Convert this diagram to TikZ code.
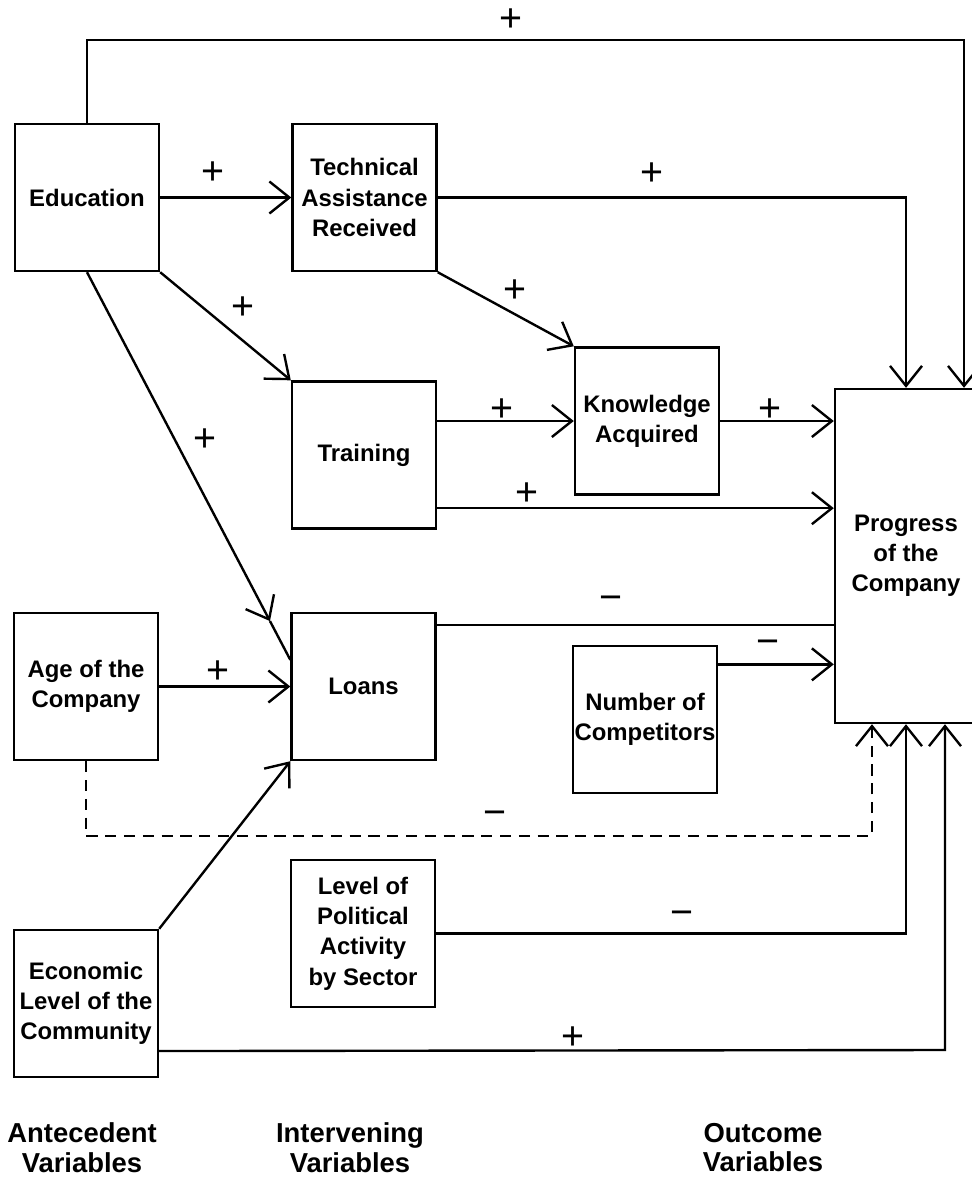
\documentclass[tikz,border=0pt]{standalone}
\usepackage{fontspec}
\setmainfont{Liberation Sans}
\usetikzlibrary{arrows.meta}

\tikzset{
  var/.style={draw, minimum width=36mm, minimum height=36.75mm, inner sep=0pt,
    align=center, font=\fontsize{17}{21.5}\selectfont\bfseries},
  sign/.style={inner sep=0pt, font=\fontsize{28}{28}\selectfont},
  heading/.style={align=center, font=\fontsize{19.5}{21}\selectfont\bfseries}
}

\begin{document}
\begin{tikzpicture}[x=0.25mm, y=-0.25mm, line width=1.7pt,
  >={Straight Barb[length=5mm,width=8mm]}]

  \useasboundingbox (0,0) rectangle (971,1177);

  \node[var] (edu)   at (87,197.5)   {Education};
  \node[var] (tech)  at (364.5,197.5) {Technical\\Assistance\\Received};
  \node[var] (train) at (364,455)    {Training};
  \node[var] (know)  at (647,421)    {Knowledge\\Acquired};
  \node[var, minimum width=35.5mm, minimum height=83.5mm] (prog) at (906,556) {Progress\\of the\\Company};
  \node[var] (age)   at (86,686.5)   {Age of the\\Company};
  \node[var] (loans) at (363.5,686.5) {Loans};
  \node[var] (comp)  at (645,719.5)  {Number of\\Competitors};
  \node[var] (pol)   at (363,933.5)  {Level of\\Political\\Activity\\by Sector};
  \node[var] (econ)  at (86,1003.5)  {Economic\\Level of the\\Community};

  % Education
  \coordinate (topturn) at (964,40);
  \draw[->] (edu.north) |- (topturn) -- (topturn |- prog.north);
  \draw[->] (edu) -- (tech);
  \draw[->] (edu.south east) -- (train.north west);
  \path (edu.south) -- (loans.160) coordinate[pos=0.9] (eduloans);
  \draw[->] (edu.south) -- (eduloans);
  \draw (eduloans) -- (loans.160);

  % Technical assistance
  \draw[->] (tech.east) -| (prog.north);
  \draw[->] (tech.south east) -- (know.north west);

  % Training and knowledge
  \draw[->] (know.west -| train.east) -- (know.west);
  \draw[->] (know.east) -- (know.east -| prog.west);
  \draw[->] (train.-36) -- (train.-36 -| prog.west);

  % Loans and competitors
  \draw (loans.40) -- (loans.40 -| prog.west);
  \draw[->] (comp.37) -- (comp.37 -| prog.west);
  \draw[->] (age) -- (loans);
  \draw[->] (econ.north east) -- (loans.south west);

  % into the bottom of progress
  \coordinate (dashturn) at (872,836);
  \draw[->, dash pattern=on 2.8mm off 1.9mm] (age.south) |- (dashturn) -- (dashturn |- prog.south);
  \draw[->] (pol.east) -| (prog.south);
  \coordinate (econturn) at (945,1050);
  \draw[->] (econ.-33) -- (econturn) -- (econturn |- prog.south);

  % signs
  \node[sign] (s1)  at (511,20)   {+};
  \node[sign] (s2)  at (213,173)  {+};
  \node[sign] (s3)  at (652,174)  {+};
  \node[sign] (s4)  at (515,291)  {+};
  \node[sign] (s5)  at (243,308)  {+};
  \node[sign] (s6)  at (205,440)  {+};
  \node[sign] (s7)  at (502,410)  {+};
  \node[sign] (s8)  at (770,410)  {+};
  \node[sign] (s9)  at (527,494)  {+};
  \node[sign] (s10) at (611,603)  {−};
  \node[sign] (s11) at (768,647)  {−};
  \node[sign] (s12) at (218,672)  {+};
  \node[sign] (s13) at (495,818)  {−};
  \node[sign] (s14) at (682,918)  {−};
  \node[sign] (s15) at (573,1038) {+};

  \node[heading] (antec)  at (82,1147.5)  {Antecedent\\Variables};
  \node[heading] (interv) at (350,1147.5) {Intervening\\Variables};
  \node[heading] (outc)   at (763,1147.5) {Outcome\\Variables};

\end{tikzpicture}
\end{document}
